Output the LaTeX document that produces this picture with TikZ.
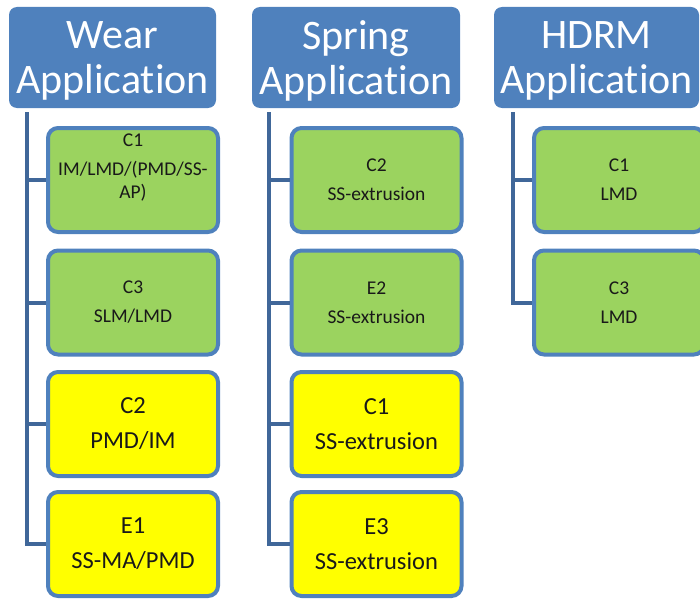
\documentclass[tikz,border=0pt]{standalone}
\usepackage{fontspec}
\setmainfont{Carlito}[Ligatures=NoCommon]
\definecolor{hdrfill}{RGB}{79,129,189}
\definecolor{bordcol}{RGB}{79,129,189}
\definecolor{conncol}{RGB}{64,103,153}
\definecolor{grncol}{RGB}{155,211,95}
\definecolor{ylwcol}{RGB}{255,255,0}
\begin{document}
\begin{tikzpicture}[x=1pt,y=-1pt,
  hdrbox/.style={fill=hdrfill, rounded corners=8pt, minimum height=101pt, text=white, align=center, font=\fontsize{42}{45}\selectfont, inner sep=0pt},
  gbox/.style={draw=bordcol, line width=4pt, fill=grncol, rounded corners=10pt, minimum width=170pt, minimum height=104pt, align=center, font=\fontsize{19.5}{23}\selectfont, text=black!90, inner sep=0pt},
  ybox/.style={gbox, fill=ylwcol, font=\fontsize{24.5}{29}\selectfont},
  link/.style={draw=conncol, line width=4pt}]
\useasboundingbox (0,0) rectangle (700,599);
% headers
\node[hdrbox, minimum width=207pt] (wh) at (112.5,57.5) {};
\node[hdrbox, minimum width=208pt] (sh) at (356,57.5) {};
\node[hdrbox, minimum width=205pt] (hh) at (596.5,57.5) {};
\node[hdrbox, fill=none] (wht) at ([yshift=-3pt]wh.center) {Wear\\Application};
\node[hdrbox, fill=none] (sht) at ([yshift=-3pt]sh.center) {Spring\\Application};
\node[hdrbox, fill=none] (hht) at ([yshift=-3pt]hh.center) {HDRM\\Application};
% wear column
\node[gbox] (w1) at (133,180) {C1\\[6pt]IM/LMD/(PMD/SS-\\AP)\\[-2pt]\strut};
\node[gbox] (w2) at (133,302.5) {C3\\[6pt]SLM/LMD};
\node[ybox] (w3) at (133,424) {C2\\[6pt]PMD/IM};
\node[ybox] (w4) at (133,544) {E1\\[6pt]SS-MA/PMD};
% spring column
\node[gbox] (s1) at (376.5,180) {C2\\[6pt]SS-extrusion};
\node[gbox] (s2) at (376.5,302.5) {E2\\[6pt]SS-extrusion};
\node[ybox] (s3) at (376.5,424) {C1\\[6pt]SS-extrusion};
\node[ybox] (s4) at (376.5,544) {E3\\[6pt]SS-extrusion};
% hdrm column
\node[gbox] (h1) at (619,180) {C1\\[6pt]LMD};
\node[gbox] (h2) at (619,302.5) {C3\\[6pt]LMD};
% connectors
\coordinate (wt) at ([xshift=18pt,yshift=-4pt]wh.south west);
\coordinate (st) at ([xshift=17pt,yshift=-4pt]sh.south west);
\coordinate (ht) at ([xshift=19pt,yshift=-4pt]hh.south west);
\foreach \c in {w1,w2,w3,w4} \draw[link] (wt) |- (\c.west);
\foreach \c in {s1,s2,s3,s4} \draw[link] (st) |- (\c.west);
\foreach \c in {h1,h2} \draw[link] (ht) |- (\c.west);
\end{tikzpicture}
\end{document}
